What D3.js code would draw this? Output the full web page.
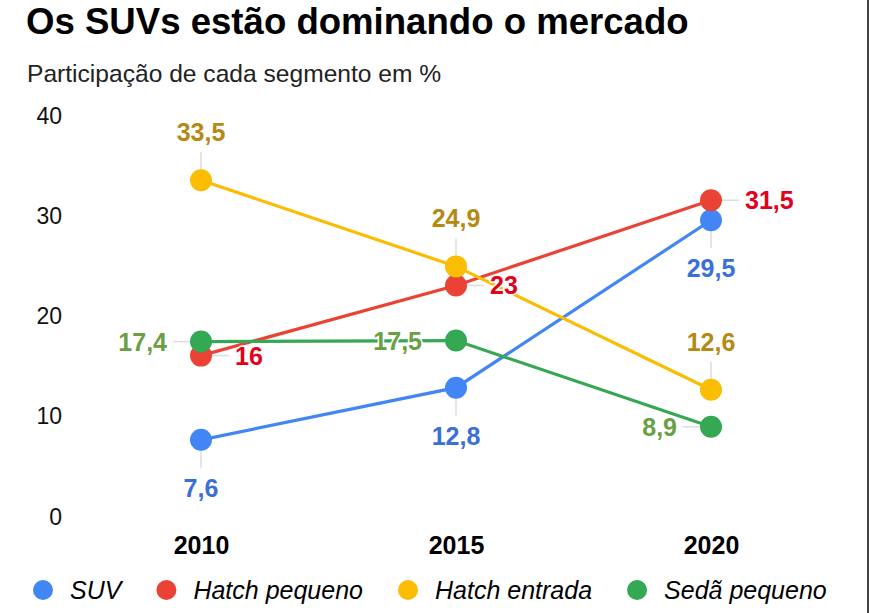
<!DOCTYPE html>
<html>
<head>
<meta charset="utf-8">
<script src="https://cdn.jsdelivr.net/npm/d3@7"></script>
<style>
  html, body { margin: 0; padding: 0; background: #fff; }
  svg { display: block; font-family: "Liberation Sans", Arial, sans-serif; }
</style>
</head>
<body>
<svg id="chart" width="870" height="613"></svg>
<script>
// ---- data ----
const years = [2010, 2015, 2020];
const seriesNames = ["SUV", "Hatch pequeno", "Hatch entrada", "Sedã pequeno"];
const suv = [7.6, 12.8, 29.5];
const hatchPequeno = [16, 23, 31.5];
const hatchEntrada = [33.5, 24.9, 12.6];
const sedaPequeno = [17.4, 17.5, 8.9];
const yTicks = [0, 10, 20, 30, 40];
const title = "Os SUVs estão dominando o mercado";
const subtitle = "Participação de cada segmento em %";

// ---- styles ----
const lineColors = ["#4285F4", "#EA4335", "#FBBC04", "#34A853"];
const labelColors = ["#3b6fd8", "#e4001b", "#b58a12", "#68a043"];
const labelSides = [
  ["below", "below", "below"],
  ["right", "right", "right"],
  ["above", "above", "above"],
  ["left", "left", "left"]
];

const allValues = [suv, hatchPequeno, hatchEntrada, sedaPequeno];
const series = seriesNames.map((name, i) => ({
  name, color: lineColors[i], labelColor: labelColors[i],
  values: allValues[i].map((v, j) => ({ year: years[j], value: v, side: labelSides[i][j] }))
}));

const svg = d3.select("#chart");
const fmt = v => String(v).replace(".", ",");

const x = d3.scaleLinear().domain([2010, 2020]).range([201, 711]);
const y = d3.scaleLinear().domain([0, 40]).range([516, 115]);

// title
svg.append("text").attr("x", 26).attr("y", 34)
  .attr("font-size", 36.6).attr("font-weight", "bold").attr("fill", "#000").text(title);
svg.append("text").attr("x", 27).attr("y", 82)
  .attr("font-size", 24.6).attr("fill", "#222").text(subtitle);

// right border
svg.append("line").attr("x1", 868).attr("x2", 868).attr("y1", 0).attr("y2", 613)
  .attr("stroke", "#444").attr("stroke-width", 2);

// y axis (labels only)
const yAxis = d3.axisLeft(y).tickValues(yTicks).tickSize(0).tickPadding(0);
const yg = svg.append("g").attr("transform", "translate(62,0)").call(yAxis);
yg.select(".domain").remove();
yg.selectAll("text").attr("font-size", 23).attr("fill", "#111")
  .attr("font-family", "Liberation Sans, Arial, sans-serif").attr("dy", "0.35em");

// x axis labels
const xAxis = d3.axisBottom(x).tickValues(years).tickFormat(d3.format("d")).tickSize(0).tickPadding(0);
const xg = svg.append("g").attr("transform", "translate(0,536)").call(xAxis);
xg.select(".domain").remove();
xg.selectAll("text").attr("font-size", 25).attr("font-weight", "bold").attr("fill", "#000")
  .attr("font-family", "Liberation Sans, Arial, sans-serif").attr("dy", "0.72em");

// leader lines
const leadLen = 28;
const dir = { above: [0, -1], below: [0, 1], left: [-1, 0], right: [1, 0] };
const gLead = svg.append("g");
series.forEach(s => {
  gLead.selectAll(null).data(s.values).enter().append("line")
    .attr("x1", d => x(d.year)).attr("y1", d => y(d.value))
    .attr("x2", d => x(d.year) + dir[d.side][0] * leadLen)
    .attr("y2", d => y(d.value) + dir[d.side][1] * leadLen)
    .attr("stroke", "#ddd").attr("stroke-width", 1.5);
});

// lines
const line = d3.line().x(d => x(d.year)).y(d => y(d.value));
svg.append("g").selectAll("path").data(series).enter().append("path")
  .attr("d", d => line(d.values)).attr("fill", "none")
  .attr("stroke", d => d.color).attr("stroke-width", 3.2);

// points
series.forEach(s => {
  svg.append("g").selectAll("circle").data(s.values).enter().append("circle")
    .attr("cx", d => x(d.year)).attr("cy", d => y(d.value)).attr("r", 11)
    .attr("fill", s.color);
});

// labels
const gLab = svg.append("g");
series.forEach(s => {
  gLab.selectAll(null).data(s.values).enter().append("text")
    .attr("x", d => x(d.year) + (d.side === "left" ? -34 : d.side === "right" ? 34 : 0))
    .attr("y", d => y(d.value) + (d.side === "above" ? -48 : d.side === "below" ? 48 : 0))
    .attr("dy", "0.36em")
    .attr("text-anchor", d => d.side === "left" ? "end" : d.side === "right" ? "start" : "middle")
    .attr("font-size", 25).attr("font-weight", "bold")
    .attr("fill", s.labelColor)
    .attr("stroke", "#fff").attr("stroke-width", 3).attr("paint-order", "stroke")
    .attr("stroke-linejoin", "round")
    .text(d => fmt(d.value));
});

// legend
const lg = svg.append("g");
let cx = 43;
series.forEach(s => {
  lg.append("circle").attr("cx", cx).attr("cy", 590).attr("r", 10).attr("fill", s.color);
  const t = lg.append("text").attr("x", cx + 27).attr("y", 590).attr("dy", "0.36em")
    .attr("font-size", 25).attr("font-style", "italic").attr("fill", "#000").text(s.name);
  cx = cx + 27 + t.node().getComputedTextLength() + 45;
});
</script>
</body>
</html>
